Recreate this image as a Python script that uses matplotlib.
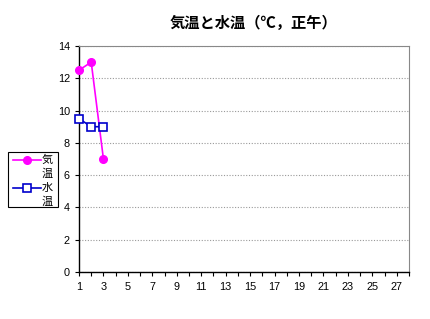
import matplotlib
matplotlib.use("Agg")
import matplotlib.pyplot as plt
from matplotlib.lines import Line2D
from matplotlib.patches import Rectangle

plt.rcParams['font.family'] = ['Liberation Sans', 'Noto Sans CJK JP', 'DejaVu Sans']

days_air = [1, 2, 3]
air_temp = [12.5, 13, 7]
days_water = [1, 2, 3]
water_temp = [9.5, 9, 9]
x_ticks = list(range(1, 28, 2))
y_ticks = [0, 2, 4, 6, 8, 10, 12, 14]
title = "気温と水温（℃，正午）"
labels = ["気温", "水温"]

W, H = 430, 319
fig = plt.figure(figsize=(W / 100, H / 100), dpi=100)
ax = fig.add_axes([0.1837, 0.1473, 0.7674, 0.7085])

air_style = dict(color='#FF00FF', lw=1.2, marker='o', ms=5.5)
water_style = dict(color='#0000CC', lw=1.2, marker='s', ms=5.5,
                   markerfacecolor='white', markeredgecolor='#0000CC', mew=1.2)

ax.plot(days_air, air_temp, clip_on=False, zorder=5, **air_style)
ax.plot(days_water, water_temp, clip_on=False, zorder=5, **water_style)

ax.set_xlim(1, 28)
ax.set_ylim(0, 14)
ax.set_xticks(range(1, 29))
ax.set_xticklabels([str(v) if v in x_ticks else '' for v in range(1, 29)])
ax.set_yticks(y_ticks)
ax.grid(axis='y', color='#999999', ls=(0, (1, 1.5)), lw=0.8)
ax.tick_params(axis='both', labelsize=7.8, length=3, width=0.8, direction='out', color='black')
ax.tick_params(axis='x', pad=4)
for s in ['top', 'right']:
    ax.spines[s].set_color('#888888')
    ax.spines[s].set_linewidth(0.8)
for s in ['left', 'bottom']:
    ax.spines[s].set_color('black')
    ax.spines[s].set_linewidth(1.0)

fig.text(254 / W, 1 - 23 / H, title, ha='center', va='center', fontsize=11, fontweight='bold',
         family=['Noto Sans CJK JP', 'DejaVu Sans'])

# manual legend (label text wraps one character per line)
def fx(x):
    return x / W

def fy(y):
    return 1 - y / H

fig.patches.append(Rectangle((fx(8), fy(207)), fx(58) - fx(8), fy(152) - fy(207),
                             transform=fig.transFigure, fill=False, edgecolor='black', lw=0.8))
for yy, style, lab in [(160, air_style, labels[0]), (188, water_style, labels[1])]:
    ln = Line2D([fx(13), fx(27), fx(41)], [fy(yy)] * 3, transform=fig.transFigure,
                markevery=[1], **style)
    fig.lines.append(ln)
    for i, ch in enumerate(lab):
        fig.text(fx(47), fy(yy + i * 13.5), ch, ha='center', va='center', fontsize=8,
                 family=['Noto Sans CJK JP', 'DejaVu Sans'])

fig.savefig('out.png', dpi=100)
